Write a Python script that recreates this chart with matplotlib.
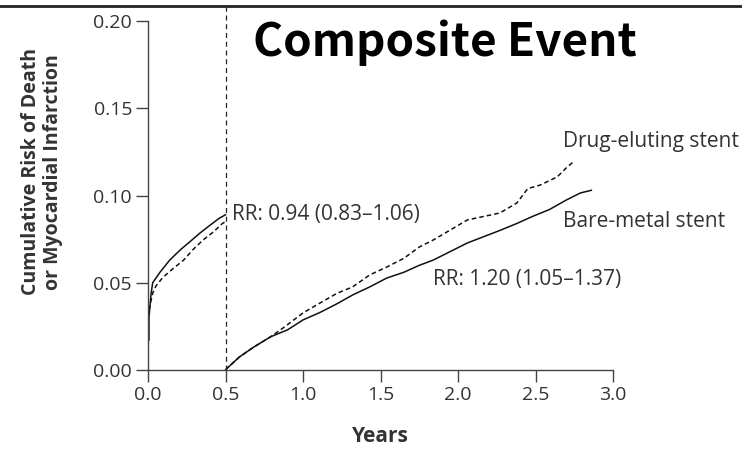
import numpy as np
import matplotlib
matplotlib.use("Agg")
import matplotlib.pyplot as plt
from matplotlib.lines import Line2D

# Cumulative risk curves, read in two windows: 0-0.5 y and landmark from 0.5 y
bms_early_t = [0.0, 0.006, 0.006, 0.02, 0.03, 0.077, 0.14, 0.21, 0.27, 0.335, 0.40, 0.46, 0.50]
bms_early_v = [0.017, 0.017, 0.030, 0.044, 0.050, 0.056, 0.063, 0.069, 0.0735, 0.0785, 0.083, 0.087, 0.089]
des_early_t = [0.0, 0.01, 0.03, 0.05, 0.095, 0.16, 0.23, 0.29, 0.355, 0.42, 0.48, 0.50]
des_early_v = [0.03, 0.036, 0.044, 0.048, 0.053, 0.058, 0.063, 0.069, 0.0745, 0.079, 0.084, 0.085]

bms_late_t = [0.50, 0.51, 0.59, 0.68, 0.79, 0.90, 1.00, 1.11, 1.22, 1.32, 1.43, 1.54, 1.65, 1.75,
              1.84, 2.06, 2.27, 2.38, 2.48, 2.59, 2.70, 2.79, 2.86]
bms_late_v = [0.0, 0.001, 0.0075, 0.013, 0.019, 0.023, 0.0287, 0.033, 0.038, 0.043, 0.0476, 0.0527,
              0.056, 0.060, 0.063, 0.0728, 0.080, 0.084, 0.088, 0.092, 0.0975, 0.1015, 0.103]
des_late_t = [0.50, 0.51, 0.59, 0.68, 0.79, 0.87, 1.00, 1.11, 1.22, 1.32, 1.43, 1.54, 1.65, 1.75,
              1.84, 2.06, 2.27, 2.38, 2.45, 2.53, 2.64, 2.70, 2.74]
des_late_v = [0.0, 0.001, 0.0075, 0.013, 0.019, 0.024, 0.0327, 0.0384, 0.044, 0.0476, 0.0545, 0.059,
              0.064, 0.0705, 0.0745, 0.086, 0.090, 0.0958, 0.104, 0.106, 0.1107, 0.116, 0.119]

landmark = 0.5
rr_early = "RR: 0.94 (0.83\u20131.06)"
rr_late = "RR: 1.20 (1.05\u20131.37)"
xticks = [0.0, 0.5, 1.0, 1.5, 2.0, 2.5, 3.0]
yticks = [0.00, 0.05, 0.10, 0.15, 0.20]

plt.rcParams["font.family"] = ["Open Sans", "DejaVu Sans"]
txt = "#333333"
fs = 15

fig = plt.figure(figsize=(7.42, 4.49), dpi=100)
ax = fig.add_axes([0.1995, 0.176, 0.6267, 0.777])

lw = 1.1
ax.plot(bms_early_t, bms_early_v, color="#111111", lw=lw)
ax.plot(des_early_t, des_early_v, color="#111111", lw=lw, ls=(0, (3, 2)))
ax.plot(bms_late_t, bms_late_v, color="#111111", lw=lw)
ax.plot(des_late_t, des_late_v, color="#111111", lw=lw, ls=(0, (3, 2)))
ax.plot([landmark, landmark], [0, 0.208], color="#222222", lw=0.9, ls=(0, (4, 3)), clip_on=False)

ax.set_xlim(0, 3)
ax.set_ylim(0, 0.2)
ax.set_xticks(xticks)
ax.set_xticklabels([f"{v:.1f}" for v in xticks])
ax.set_yticks(yticks)
ax.set_yticklabels([f"{v:.2f}" for v in yticks])
for s in ("top", "right"):
    ax.spines[s].set_visible(False)
for s in ("left", "bottom"):
    ax.spines[s].set_color("#444444")
    ax.spines[s].set_linewidth(1.0)
ax.tick_params(length=8.5, width=1.0, color="#444444", labelsize=14, labelcolor=txt, pad=3)

ax.text(0.542, 0.0889, rr_early, fontsize=fs, color=txt, va="center")
ax.text(1.84, 0.0516, rr_late, fontsize=fs, color=txt, va="center")
ax.text(2.68, 0.1307, "Drug-eluting stent", fontsize=fs, color=txt, va="center")
ax.text(2.68, 0.0849, "Bare-metal stent", fontsize=fs, color=txt, va="center")

fig.text(0.513, 0.027, "Years", fontsize=fs, fontweight="bold", color=txt,
         ha="center", va="center")
fig.text(0.0566, 0.617, "Cumulative Risk of Death\nor Myocardial Infarction", fontsize=14,
         fontweight="bold", color=txt, rotation=90, ha="center", va="center", linespacing=1.15)

fig.text(0.341, 0.905, "Composite Event", fontsize=33, fontweight="bold",
         family=["Noto Sans CJK KR", "DejaVu Sans"], color="black", va="center")

fig.add_artist(Line2D([0, 1], [0.986, 0.986], transform=fig.transFigure, color="#222222", lw=2))

fig.savefig("out.png", dpi=100, facecolor="white")
